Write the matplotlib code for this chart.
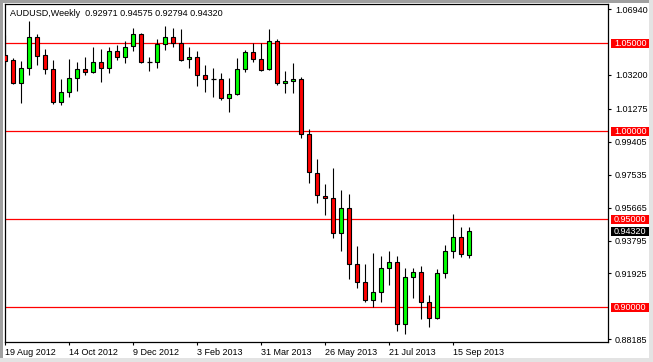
import matplotlib
matplotlib.use('Agg')
import matplotlib.pyplot as plt
from matplotlib.patches import Rectangle
import matplotlib.transforms as mtrans

symbol = "AUDUSD,Weekly"

opens = [1.0434, 1.0403, 1.0273, 1.0358, 1.0534, 1.0433, 1.0352, 1.0168, 1.0222, 1.0305,
         1.0352, 1.0339, 1.0394, 1.0358, 1.0456, 1.0424, 1.0485, 1.0553, 1.0392, 1.0392,
         1.0494, 1.0534, 1.0500, 1.0409, 1.0420, 1.0320, 1.0296, 1.0296, 1.0191, 1.0210,
         1.0352, 1.0449, 1.0409, 1.0352, 1.0513, 1.0273, 1.0286, 1.0297, 0.9983, 0.9762,
         0.9634, 0.9619, 0.9421, 0.9563, 0.9244, 0.9142, 0.9042, 0.9085, 0.9222, 0.9256,
         0.8903, 0.9174, 0.9199, 0.9028, 0.8938, 0.9193, 0.9322, 0.9398, 0.92971]
highs = [1.0547, 1.0415, 1.0399, 1.0627, 1.0551, 1.0466, 1.0405, 1.0297, 1.0409, 1.0396,
         1.0420, 1.0481, 1.0466, 1.0481, 1.0490, 1.0515, 1.0589, 1.0560, 1.0420, 1.0523,
         1.0598, 1.0585, 1.0580, 1.0481, 1.0458, 1.0377, 1.0358, 1.0333, 1.0301, 1.0415,
         1.0462, 1.0500, 1.0500, 1.0581, 1.0523, 1.0343, 1.0390, 1.0307, 1.0011, 0.9841,
         0.9699, 0.9790, 0.9667, 0.9642, 0.9348, 0.9244, 0.9307, 0.9292, 0.9320, 0.9292,
         0.9222, 0.9222, 0.9235, 0.9070, 0.9216, 0.9354, 0.9528, 0.9458, 0.94575]
lows = [1.0377, 1.0270, 1.0163, 1.0320, 1.0377, 1.0326, 1.0153, 1.0148, 1.0197, 1.0231,
        1.0320, 1.0330, 1.0282, 1.0333, 1.0405, 1.0386, 1.0458, 1.0390, 1.0344, 1.0361,
        1.0462, 1.0481, 1.0401, 1.0358, 1.0257, 1.0225, 1.0197, 1.0178, 1.0111, 1.0208,
        1.0339, 1.0395, 1.0344, 1.0350, 1.0263, 1.0219, 1.0219, 0.9960, 0.9708, 0.9594,
        0.9524, 0.9396, 0.9320, 0.9159, 0.9111, 0.9032, 0.9000, 0.9032, 0.9127, 0.8865,
        0.8847, 0.9055, 0.8932, 0.8890, 0.8935, 0.9168, 0.9282, 0.9288, 0.92794]
closes = [1.0402, 1.0273, 1.0358, 1.0534, 1.0430, 1.0352, 1.0168, 1.0222, 1.0301, 1.0352,
          1.0339, 1.0394, 1.0358, 1.0456, 1.0424, 1.0481, 1.0553, 1.0392, 1.0392, 1.0494,
          1.0534, 1.0503, 1.0405, 1.0420, 1.0320, 1.0296, 1.0296, 1.0191, 1.0210, 1.0352,
          1.0449, 1.0409, 1.0348, 1.0513, 1.0273, 1.0286, 1.0297, 0.9983, 0.9767, 0.9638,
          0.9619, 0.9421, 0.9563, 0.9244, 0.9142, 0.9042, 0.9085, 0.9222, 0.9256, 0.8903,
          0.9174, 0.9199, 0.9028, 0.8938, 0.9193, 0.9322, 0.9398, 0.9301, 0.94320]

date_tick_idx = [0, 8, 16, 24, 32, 40, 48, 56]
date_tick_labels = ["19 Aug 2012", "14 Oct 2012", "9 Dec 2012", "3 Feb 2013",
                    "31 Mar 2013", "26 May 2013", "21 Jul 2013", "15 Sep 2013"]
price_ticks = [1.06940, 1.03200, 1.01275, 0.99405, 0.97535, 0.95665, 0.93795, 0.91925, 0.88185]
levels = [1.05, 1.00, 0.95, 0.90]

FONT = 'Liberation Sans'
FS = 6.5
W, H = 653, 362

fig = plt.figure(figsize=(W / 100, H / 100), dpi=100)
fig.patch.set_facecolor('white')

# window frame
fig.patches.append(Rectangle((0, 0), 2.7 / W, 1, transform=fig.transFigure, fc='#a0a0a0', ec='none'))
fig.patches.append(Rectangle((0, 1 - 3 / H), 1, 3 / H, transform=fig.transFigure, fc='#a0a0a0', ec='none'))
fig.patches.append(Rectangle((1 - 4 / W, 0), 4 / W, 1, transform=fig.transFigure, fc='#e3e3e3', ec='none'))
fig.patches.append(Rectangle((0, 0), 1, 4 / H, transform=fig.transFigure, fc='#e3e3e3', ec='none'))

ax_l, ax_b, ax_w, ax_h = 4.7, 20, 603.3, 338
ax = fig.add_axes([ax_l / W, ax_b / H, ax_w / W, ax_h / H])
ax.set_facecolor('white')
ax.set_xlim(-0.075, 75.34)
ax.set_ylim(0.88028, 1.07233)

for s in ax.spines.values():
    s.set_color('black')
    s.set_linewidth(0.9)

# horizontal levels
for lv in levels:
    ax.axhline(lv, color='#ff0000', lw=0.9, zorder=1)

# candles
bw = 0.5
for i, (o, h, l, c) in enumerate(zip(opens, highs, lows, closes)):
    ax.vlines(i, l, h, color='black', lw=0.8, zorder=3)
    if c == o:
        ax.hlines(o, i - 0.31, i + 0.31, color='black', lw=0.9, zorder=4)
    else:
        col = '#00ff00' if c > o else '#ff0000'
        ax.add_patch(Rectangle((i - bw / 2, min(o, c)), bw, abs(c - o),
                               fc=col, ec='black', lw=0.8, zorder=4))

# axes ticks
ax.yaxis.tick_right()
ax.set_yticks(price_ticks)
ax.set_yticklabels([f"{v:.5f}" for v in price_ticks])
ax.tick_params(axis='y', length=2.5, width=0.8, pad=2.5, labelsize=FS, colors='black')
ax.set_xticks(date_tick_idx)
ax.set_xticklabels(date_tick_labels)
ax.tick_params(axis='x', length=2.5, width=0.8, pad=1.5, labelsize=FS, colors='black')
for lab in ax.get_xticklabels():
    lab.set_horizontalalignment('left')
    lab.set_family(FONT)
for lab in ax.get_yticklabels():
    lab.set_family(FONT)

# price level labels on the axis
trans = mtrans.blended_transform_factory(ax.transAxes, ax.transData)
bx0 = (610.7 - ax_l) / ax_w
bwid = 40 / ax_w
tx = (614 - ax_l) / ax_w
bh = 9 / 1760


def axis_label(val, bg):
    ax.add_patch(Rectangle((bx0, val - bh / 2), bwid, bh, transform=trans,
                           fc=bg, ec='none', clip_on=False, zorder=10))
    ax.text(tx, val, f"{val:.5f}", transform=trans, ha='left', va='center',
            color='white', fontsize=FS, family=FONT, clip_on=False, zorder=11)


for lv in levels:
    axis_label(lv, '#ff0000')
axis_label(closes[-1], 'black')

header = f"{symbol}  {opens[-1]:.5f} {highs[-1]:.5f} {lows[-1]:.5f} {closes[-1]:.5f}"
fig.text(10 / W, 1 - 13 / H, header, ha='left', va='center', fontsize=FS,
         family=FONT, color='black')

fig.savefig('out.png', dpi=100, facecolor='white')
